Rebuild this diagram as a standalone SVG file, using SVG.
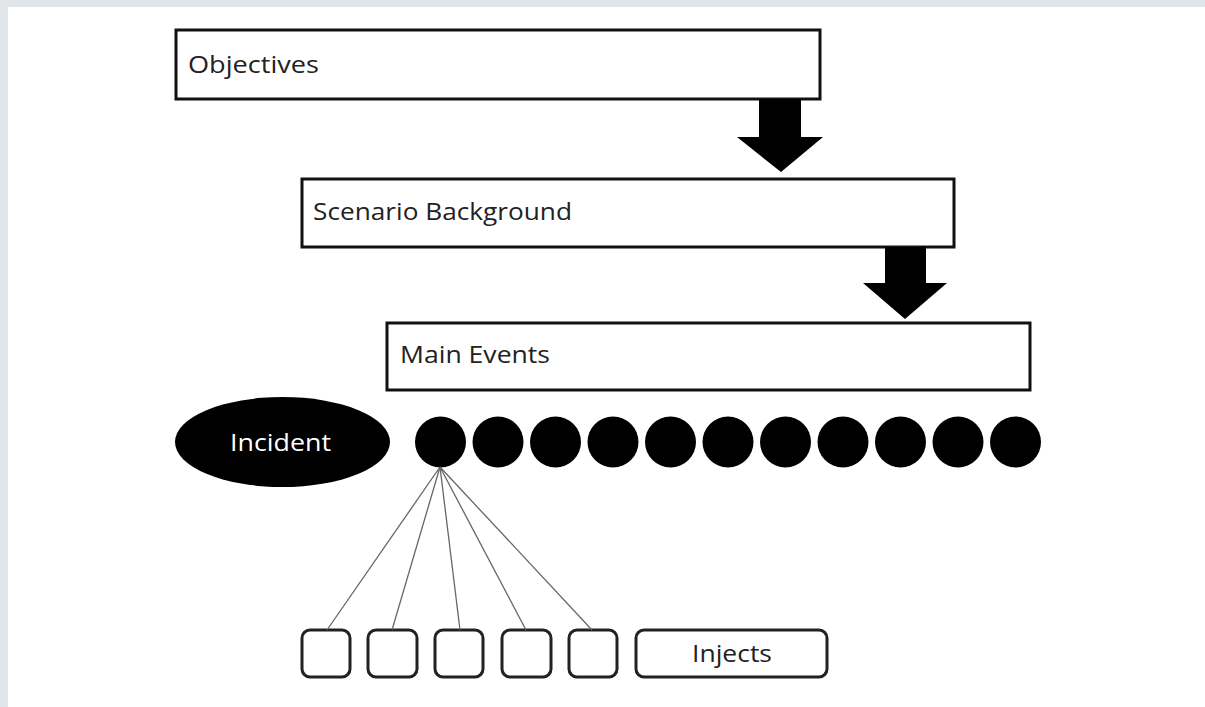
<svg xmlns="http://www.w3.org/2000/svg" width="1205" height="707" viewBox="0 0 1205 707">
<style>
.box{fill:#fff;stroke:#111;stroke-width:3}
.sbox{fill:#fff;stroke:#222;stroke-width:3}
.t{font-family:"Open Sans","Liberation Sans",sans-serif;font-size:23px;fill:#222}
.arrow{fill:#000}
.dot{fill:#000}
.conn{stroke:#666;stroke-width:1.3;fill:none}
</style>
<rect x="0" y="0" width="1205" height="707" fill="#e2e5ea"/>
<rect x="8" y="7" width="1197" height="700" fill="#fff"/>
<g id="objectives">
<rect class="box" x="176" y="30" width="644" height="69"/>
<text class="t" x="188" y="73" textLength="131" lengthAdjust="spacingAndGlyphs">Objectives</text>
</g>
<g id="scenario">
<rect class="box" x="302" y="179" width="652" height="68"/>
<text class="t" x="313" y="220" textLength="259" lengthAdjust="spacingAndGlyphs">Scenario Background</text>
</g>
<g id="main-events">
<rect class="box" x="387" y="323" width="643" height="67"/>
<text class="t" x="400" y="363" textLength="150" lengthAdjust="spacingAndGlyphs">Main Events</text>
</g>
<g id="incident">
<ellipse cx="282.5" cy="442" rx="107.5" ry="45" fill="#000"/>
<text class="t" x="230" y="451" fill="#fff" style="fill:#fff" textLength="101" lengthAdjust="spacingAndGlyphs">Incident</text>
</g>
<g id="events">
<circle class="dot" cx="440.5" cy="442" r="25.5"/>
<circle class="dot" cx="498" cy="442" r="25.5"/>
<circle class="dot" cx="555.5" cy="442" r="25.5"/>
<circle class="dot" cx="613" cy="442" r="25.5"/>
<circle class="dot" cx="670.5" cy="442" r="25.5"/>
<circle class="dot" cx="728" cy="442" r="25.5"/>
<circle class="dot" cx="785.5" cy="442" r="25.5"/>
<circle class="dot" cx="843" cy="442" r="25.5"/>
<circle class="dot" cx="900.5" cy="442" r="25.5"/>
<circle class="dot" cx="958" cy="442" r="25.5"/>
<circle class="dot" cx="1015.5" cy="442" r="25.5"/>
</g>
<g id="inject-boxes">
<rect class="sbox" x="302" y="630" width="48" height="47" rx="8"/>
<rect class="sbox" x="368" y="630" width="49" height="47" rx="8"/>
<rect class="sbox" x="435" y="630" width="48" height="47" rx="8"/>
<rect class="sbox" x="502" y="630" width="49" height="47" rx="8"/>
<rect class="sbox" x="569" y="630" width="48" height="47" rx="8"/>
</g>
<g id="injects">
<rect class="sbox" x="636" y="630" width="191" height="47" rx="8"/>
<text class="t" x="692" y="662" textLength="80" lengthAdjust="spacingAndGlyphs">Injects</text>
</g>
<g id="connectors">
<polygon class="arrow" points="759,99 801,99 801,137 823,137 781,172 737,137 759,137"/>
<polygon class="arrow" points="885,247 926,247 926,283 947,283 905,319 863,283 885,283"/>
<line class="conn" x1="440" y1="467" x2="327" y2="630"/>
<line class="conn" x1="440" y1="467" x2="392" y2="630"/>
<line class="conn" x1="440" y1="467" x2="460" y2="630"/>
<line class="conn" x1="440" y1="467" x2="526" y2="630"/>
<line class="conn" x1="440" y1="467" x2="592" y2="630"/>
</g>
</svg>
